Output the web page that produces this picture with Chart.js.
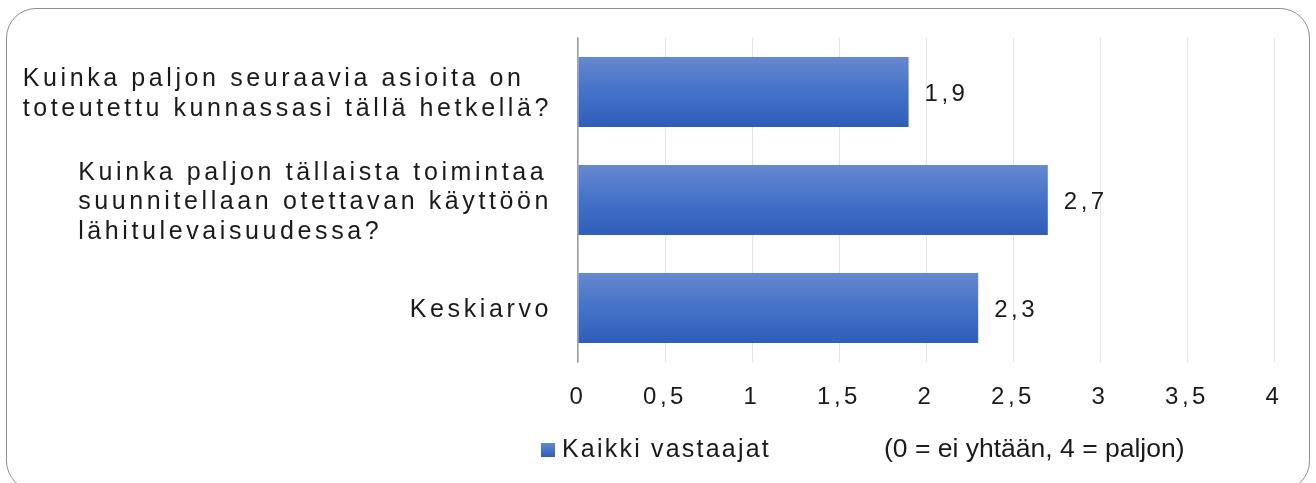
<!DOCTYPE html>
<html>
<head>
<meta charset="utf-8">
<script src="https://cdn.jsdelivr.net/npm/chart.js@4/dist/chart.umd.min.js"></script>
<style>
    html, body { margin: 0; padding: 0; background: #ffffff; }
    #wrap { position: relative; width: 1316px; height: 483px; overflow: hidden; }
    #frame {
        position: absolute; left: 6px; top: 8px; width: 1304px; height: 483px;
        border: 1.5px solid #8e8e8e; border-radius: 30px; box-sizing: border-box;
    }
    #chartBox { position: absolute; left: 0; top: 0; width: 1316px; height: 483px; }
</style>
</head>
<body>
<div id="wrap">
    <div id="frame"></div>
    <div id="chartBox"><canvas id="surveyChart"></canvas></div>
</div>
<script>
// Chart data
const categories = [
    ['Kuinka paljon seuraavia asioita on', 'toteutettu kunnassasi tällä hetkellä?'],
    ['Kuinka paljon tällaista toimintaa', 'suunnitellaan otettavan käyttöön', 'lähitulevaisuudessa?'],
    ['Keskiarvo']
];
const values = [1.9, 2.7, 2.3];
const valueLabels = ['1,9', '2,7', '2,3'];
const xTickLabels = ['0', '0,5', '1', '1,5', '2', '2,5', '3', '3,5', '4'];
const seriesName = 'Kaikki vastaajat';
const scaleNote = '(0 = ei yhtään, 4 = paljon)';

const FONT = '"Liberation Sans", Arial, sans-serif';
const TEXT = '#1a1a1a';
const BAR_PCT = 0.648;

function barGradient(ctx, top, bottom) {
    const g = ctx.createLinearGradient(0, top, 0, bottom);
    g.addColorStop(0, '#6688cf');
    g.addColorStop(0.5, '#4472c7');
    g.addColorStop(1, '#2f5eb9');
    return g;
}

// draws category labels, value labels, legend and note
const textPlugin = {
    id: 'textPlugin',
    beforeDraw(chart) {
        chart.ctx.letterSpacing = '3.5px';
    },
    afterDatasetsDraw(chart) {
        const ctx = chart.ctx;
        const y = chart.scales.y;
        ctx.save();
        ctx.fillStyle = TEXT;
        ctx.textBaseline = 'alphabetic';

        // category labels, lines left aligned, block ends near the axis
        ctx.font = '25px ' + FONT;
        ctx.letterSpacing = '3.6px';
        ctx.textAlign = 'left';
        const lineH = 29.5;
        categories.forEach(function(lines, i) {
            const center = y.getPixelForValue(i);
            const w = Math.max.apply(null, lines.map(l => ctx.measureText(l).width));
            const left = chart.chartArea.left - 26 - w;
            lines.forEach(function(line, j) {
                const off = (j - (lines.length - 1) / 2) * lineH;
                ctx.fillText(line, left, center + off + 9);
            });
        });

        // value labels
        ctx.font = '24px ' + FONT;
        ctx.letterSpacing = '3.5px';
        const meta = chart.getDatasetMeta(0);
        meta.data.forEach(function(bar, i) {
            ctx.fillText(valueLabels[i], bar.x + 16, bar.y + 9);
        });

        // legend
        ctx.fillStyle = barGradient(ctx, 443, 457);
        ctx.fillRect(541, 443, 14, 14);
        ctx.fillStyle = TEXT;
        ctx.font = '25px ' + FONT;
        ctx.letterSpacing = '2.2px';
        ctx.fillText(seriesName, 562, 457);

        ctx.letterSpacing = '0px';
        ctx.font = '26.5px ' + FONT;
        ctx.fillText(scaleNote, 884, 457);
        ctx.restore();
    }
};

function initializeSurveyChart() {
    const ctx = document.getElementById('surveyChart').getContext('2d');
    new Chart(ctx, {
        type: 'bar',
        data: {
            labels: categories,
            datasets: [{
                label: seriesName,
                data: values,
                backgroundColor: function(c) {
                    const chart = c.chart;
                    if (!chart.chartArea) return '#4472c4';
                    const ys = chart.scales.y;
                    const center = ys.getPixelForValue(c.dataIndex);
                    const half = ys.height / categories.length * BAR_PCT / 2;
                    return barGradient(chart.ctx, center - half, center + half);
                },
                borderWidth: 0,
                categoryPercentage: 1,
                barPercentage: BAR_PCT
            }]
        },
        options: {
            indexAxis: 'y',
            responsive: true,
            maintainAspectRatio: false,
            animation: false,
            layout: {
                padding: { left: 578, right: 42, top: 38, bottom: 0 }
            },
            plugins: {
                legend: { display: false },
                tooltip: { enabled: false }
            },
            scales: {
                x: {
                    min: 0,
                    max: 4,
                    afterFit: function(s) { s.height = 121; },
                    grid: {
                        color: '#dbe5f1',
                        lineWidth: 1,
                        drawTicks: false
                    },
                    border: { display: false },
                    ticks: {
                        stepSize: 0.5,
                        padding: 21,
                        color: TEXT,
                        font: { family: FONT, size: 24 },
                        callback: function(v, i) { return xTickLabels[i]; }
                    }
                },
                y: {
                    afterFit: function(s) { s.width = 0; },
                    grid: { display: false },
                    border: { display: true, color: '#a0a0a0', width: 1.5 },
                    ticks: { display: false }
                }
            }
        },
        plugins: [textPlugin]
    });
}

document.addEventListener('DOMContentLoaded', initializeSurveyChart);
</script>
</body>
</html>
